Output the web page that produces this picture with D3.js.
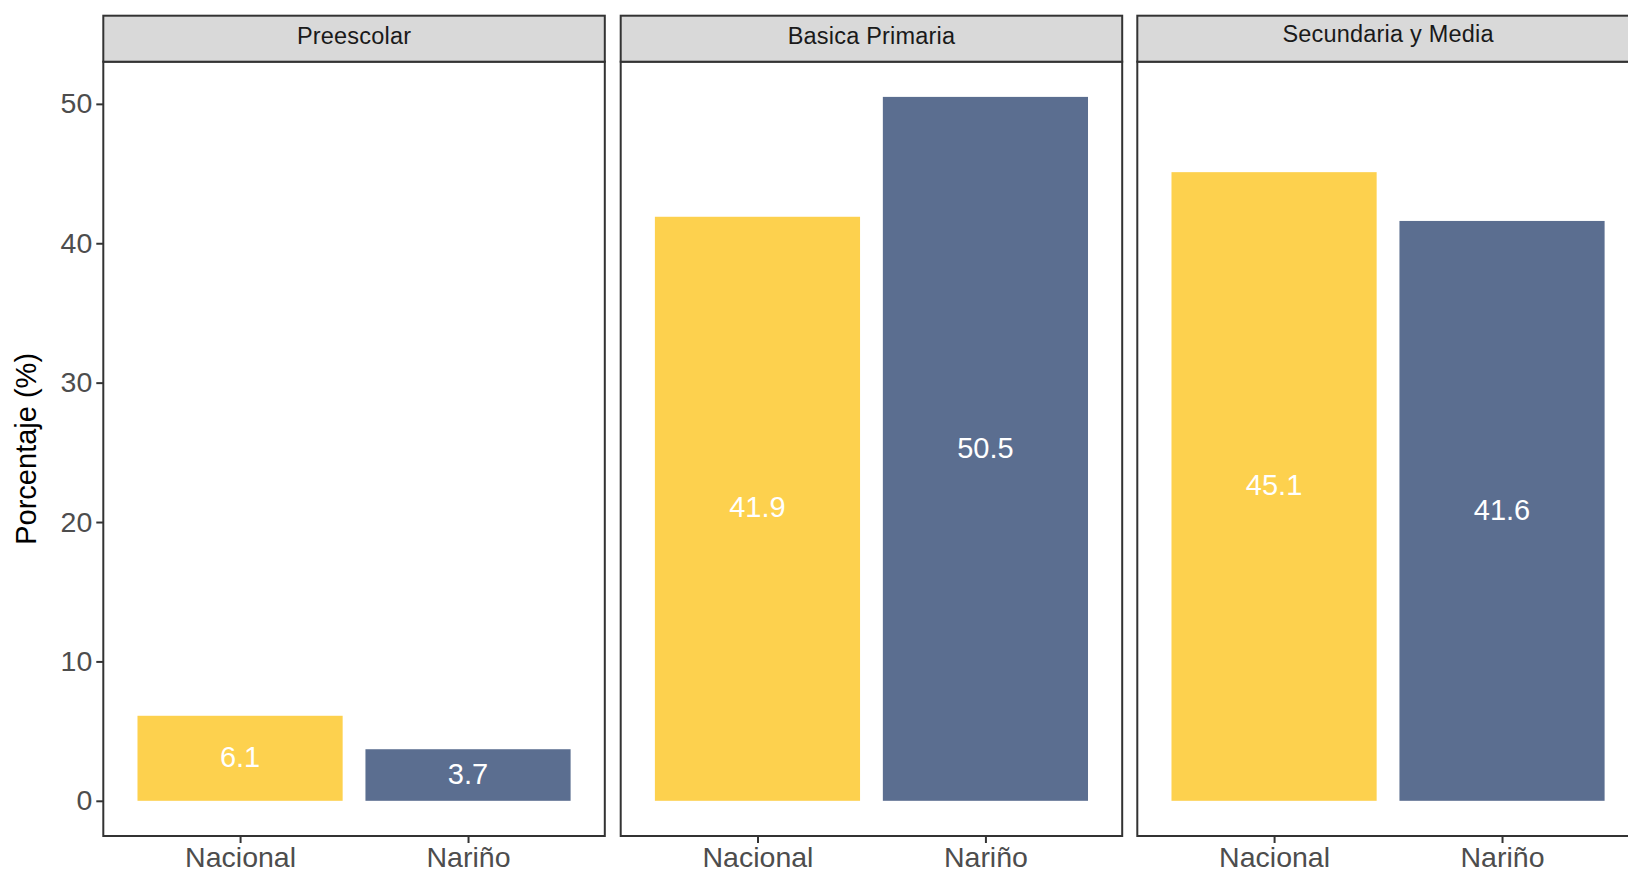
<!DOCTYPE html>
<html>
<head>
<meta charset="utf-8">
<script src="https://cdn.jsdelivr.net/npm/d3@7"></script>
<style>
  html, body { margin: 0; padding: 0; background: #fff; overflow: hidden; }
  svg { display: block; }
</style>
</head>
<body>
<script>
// ---- Data ----
const panels = ["Preescolar", "Basica Primaria", "Secundaria y Media"];
const categories = ["Nacional", "Nariño"];
const nacionalValues = [6.1, 41.9, 45.1];
const narinoValues = [3.7, 50.5, 41.6];
const yTicks = [0, 10, 20, 30, 40, 50];
const colors = ["#FDD14E", "#5B6E90"];

const W = 1628, H = 871;
const svg = d3.select("body").append("svg").attr("width", W).attr("height", H);

const font = "'Liberation Sans', Arial, Helvetica, sans-serif";
const panelLefts = [103.3, 620.7, 1137.3];
const panelW = 501.5;
const stripTop = 15.7, stripBot = 61.7, panelBot = 836;

const maxV = d3.max([...nacionalValues, ...narinoValues]);
const expand = maxV * 0.05;
const y = d3.scaleLinear().domain([-expand, maxV + expand]).range([panelBot, stripBot]);

// y axis on the first panel
const yAxisG = svg.append("g").attr("transform", `translate(${panelLefts[0]},0)`)
  .call(d3.axisLeft(y).tickValues(yTicks).tickSize(7).tickPadding(4).tickFormat(d3.format("d")));
yAxisG.select(".domain").remove();
yAxisG.selectAll(".tick line").attr("stroke", "#333").attr("stroke-width", 2);
yAxisG.selectAll(".tick text").attr("fill", "#4D4D4D").style("font-family", font).style("font-size", "28.5px");

// y axis title
svg.append("text")
  .attr("transform", `translate(36,${(stripBot + panelBot) / 2}) rotate(-90)`)
  .attr("text-anchor", "middle")
  .style("font-family", font).style("font-size", "29px").attr("fill", "#000")
  .text("Porcentaje (%)");

const stripFont = 23.5;
panels.forEach((p, i) => {
  const x0 = panelLefts[i];
  const g = svg.append("g").attr("transform", `translate(${x0},0)`);
  // ggplot discrete: positions 1..n with 0.6 expansion, width 0.9
  const unit = panelW / (categories.length - 1 + 1.2);
  const xc = d3.scalePoint().domain(categories).range([0.6 * unit, panelW - 0.6 * unit]);
  const bw = 0.9 * unit;
  const vals = [nacionalValues[i], narinoValues[i]];

  g.append("rect").attr("x", 0).attr("y", stripBot).attr("width", panelW).attr("height", panelBot - stripBot)
    .attr("fill", "#fff");

  // bars
  g.selectAll("rect.bar").data(categories).enter().append("rect")
    .attr("class", "bar")
    .attr("x", d => xc(d) - bw / 2)
    .attr("width", bw)
    .attr("y", (d, j) => y(vals[j]))
    .attr("height", (d, j) => y(0) - y(vals[j]))
    .attr("fill", (d, j) => colors[j]);

  // value labels
  g.selectAll("text.val").data(categories).enter().append("text")
    .attr("class", "val")
    .attr("x", d => xc(d))
    .attr("y", (d, j) => y(vals[j] / 2))
    .attr("dy", "0.3em")
    .attr("text-anchor", "middle")
    .style("font-family", font).style("font-size", "29px").attr("fill", "#fff")
    .text((d, j) => d3.format(".1f")(vals[j]));

  // panel border
  g.append("rect").attr("x", 0).attr("y", stripBot).attr("width", panelW).attr("height", panelBot - stripBot)
    .attr("fill", "none").attr("stroke", "#333").attr("stroke-width", 2);

  // strip
  g.append("rect").attr("x", 0).attr("y", stripTop).attr("width", panelW).attr("height", stripBot - stripTop)
    .attr("fill", "#D9D9D9").attr("stroke", "#333").attr("stroke-width", 2);
  const mid = (stripTop + stripBot) / 2;
  const hasDesc = /[gjpqy]/.test(p);
  const baseline = mid + 0.716 * stripFont / 2 - 3 - (hasDesc ? 1.8 : 0);
  g.append("text")
    .attr("x", panelW / 2).attr("y", baseline)
    .attr("text-anchor", "middle")
    .style("font-family", font).style("font-size", stripFont + "px").style("letter-spacing", "0.2px")
    .attr("fill", "#1A1A1A")
    .text(p);

  // x axis
  const xAxisG = g.append("g").attr("transform", `translate(0,${panelBot})`)
    .call(d3.axisBottom(xc).tickSize(7).tickPadding(4));
  xAxisG.select(".domain").remove();
  xAxisG.selectAll(".tick line").attr("stroke", "#333").attr("stroke-width", 2);
  xAxisG.selectAll(".tick text").attr("fill", "#4D4D4D").style("font-family", font).style("font-size", "28.5px");
});
</script>
</body>
</html>
